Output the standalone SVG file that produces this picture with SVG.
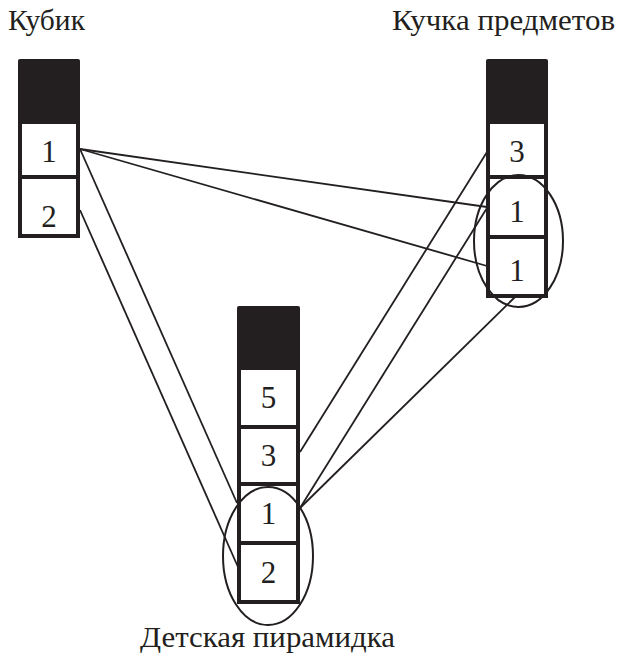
<svg xmlns="http://www.w3.org/2000/svg" width="619" height="655" viewBox="0 0 619 655">
<style>
.cap{fill:#231f20}
.box{fill:#fff;stroke:#231f20;stroke-width:4}
.num{font-family:"Liberation Serif","Times New Roman",serif;font-size:31px;fill:#231f20;text-anchor:middle}
.lbl{font-family:"Liberation Serif","Times New Roman",serif;font-size:30px;fill:#231f20}
.ell{fill:none;stroke:#231f20;stroke-width:2}
.ln{stroke:#231f20;stroke-width:1.8;fill:none}
</style>
<rect width="619" height="655" fill="#fff"/>
<g id="connectors">
<line class="ln" x1="80" y1="149" x2="487" y2="207"/>
<line class="ln" x1="80" y1="149" x2="487" y2="266"/>
<line class="ln" x1="80" y1="149" x2="237" y2="503"/>
<line class="ln" x1="80" y1="210" x2="238" y2="567"/>
<line class="ln" x1="487" y1="152" x2="300" y2="452"/>
<line class="ln" x1="487" y1="208" x2="300" y2="508"/>
<line class="ln" x1="515" y1="297" x2="300" y2="508"/>
</g>
<g id="kubik">
<text class="lbl" x="8" y="30" textLength="77" lengthAdjust="spacingAndGlyphs">Кубик</text>
<rect class="cap" x="18" y="59" width="62" height="64" rx="2"/>
<rect class="box" x="20" y="122" width="58" height="55"/>
<rect class="box" x="20" y="177" width="58" height="59"/>
<text class="num" x="49" y="162">1</text>
<text class="num" x="49" y="227">2</text>
</g>
<g id="kuchka">
<text class="lbl" x="392" y="30" textLength="223" lengthAdjust="spacingAndGlyphs">Кучка предметов</text>
<rect class="cap" x="486" y="59" width="62" height="64" rx="2"/>
<rect class="box" x="488" y="122" width="58" height="55"/>
<rect class="box" x="488" y="177" width="58" height="60"/>
<rect class="box" x="488" y="237" width="58" height="59"/>
<text class="num" x="517" y="162">3</text>
<text class="num" x="517" y="222">1</text>
<text class="num" x="517" y="281">1</text>
<ellipse class="ell" cx="518.5" cy="241" rx="44.5" ry="66"/>
</g>
<g id="piramidka">
<text class="lbl" x="140" y="647" textLength="255" lengthAdjust="spacingAndGlyphs">Детская пирамидка</text>
<rect class="cap" x="237" y="306" width="63" height="63" rx="2"/>
<rect class="box" x="239" y="368" width="59" height="59"/>
<rect class="box" x="239" y="427" width="59" height="57"/>
<rect class="box" x="239" y="484" width="59" height="59"/>
<rect class="box" x="239" y="543" width="59" height="59"/>
<text class="num" x="268.5" y="408">5</text>
<text class="num" x="268.5" y="466">3</text>
<text class="num" x="268.5" y="524">1</text>
<text class="num" x="268.5" y="583">2</text>
<ellipse class="ell" cx="268" cy="556" rx="45" ry="69"/>
</g>
</svg>
